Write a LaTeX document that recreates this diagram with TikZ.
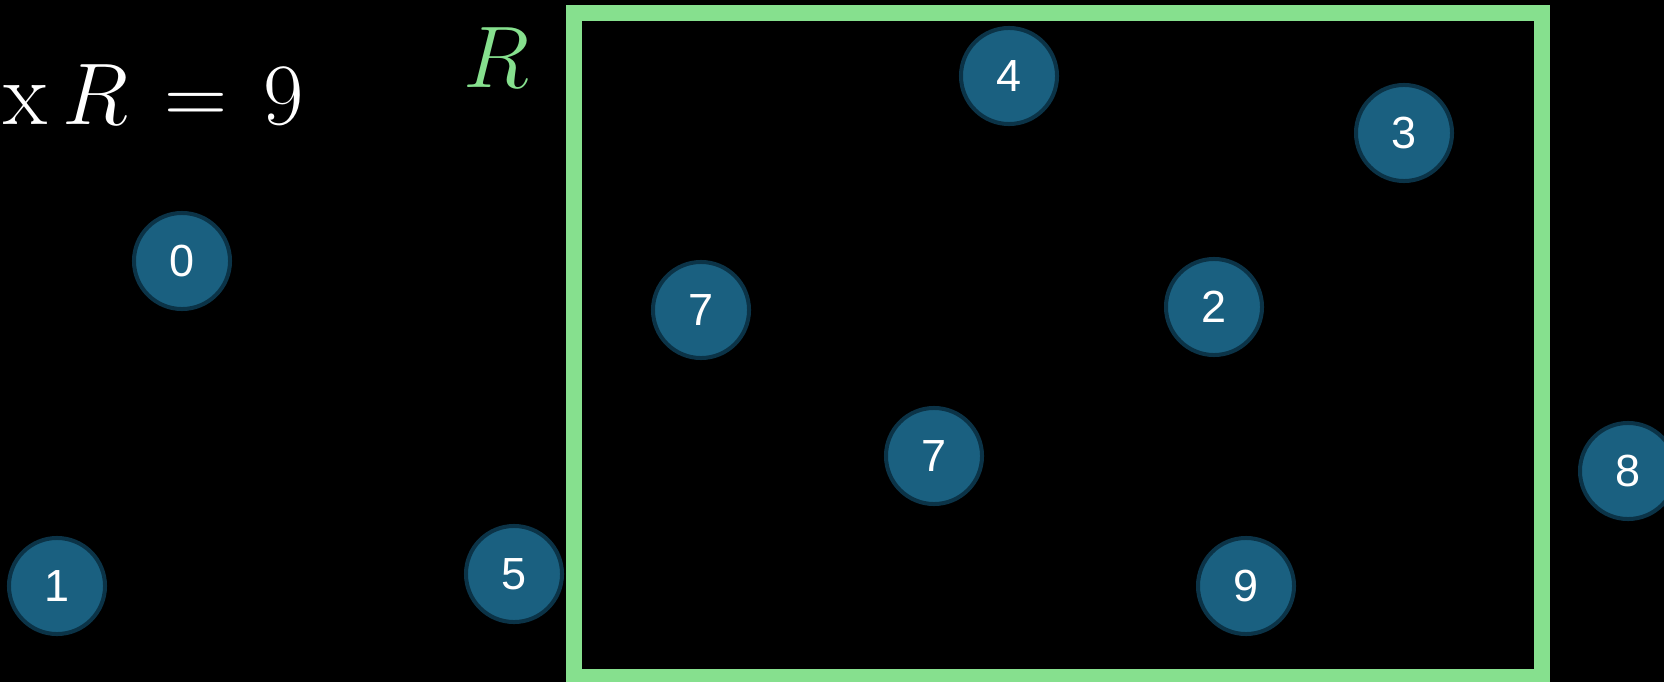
\documentclass[tikz,border=0pt]{standalone}
\usepackage{fontspec}
\usepackage{tikz}
\usetikzlibrary{positioning}
\newfontfamily\numfont{Liberation Sans}
\definecolor{itemFill}{HTML}{1A6080}
\definecolor{itemEdge}{HTML}{0B3347}
\definecolor{regionGreen}{HTML}{86E08E}

\begin{document}
\begin{tikzpicture}[
    x=0.01cm, y=-0.01cm,
    item/.style={circle, draw=itemEdge, fill=itemFill, line width=0.04cm, minimum size=0.96cm, inner sep=0pt, text=white, font=\numfont\fontsize{12.8}{15}\selectfont},
    region/.style={draw=regionGreen, line width=0.16cm}
]
% background and frame
\fill[black] (0,0) rectangle (1664,682);
\useasboundingbox (0,0) rectangle (1664,682);

\draw[region] (574,13) rectangle (1542,677);
\node[anchor=base west, inner sep=0pt, text=regionGreen, font=\fontsize{27}{32}\selectfont] (rlabel) at (463,88) {$R$};
\node[anchor=base west, inner sep=0pt, text=white, font=\fontsize{25.8}{30}\selectfont] (sum) at (3,125) {$\mathrm{x}\,R \mkern2.5mu= \mkern2.5mu 9$};

% items
\node[item] (n4) at (1009,76) {4};
\node[item] (n3) at (1404,133) {3};
\node[item] (n0) at (182,261) {0};
\node[item] (n7a) at (701,310) {7};
\node[item] (n2) at (1214,307) {2};
\node[item] (n7b) at (934,456) {7};
\node[item] (n8) at (1628,471) {8};
\node[item] (n1) at (57,586) {1};
\node[item] (n5) at (514,574) {5};
\node[item] (n9) at (1246,586) {9};
\end{tikzpicture}
\end{document}
